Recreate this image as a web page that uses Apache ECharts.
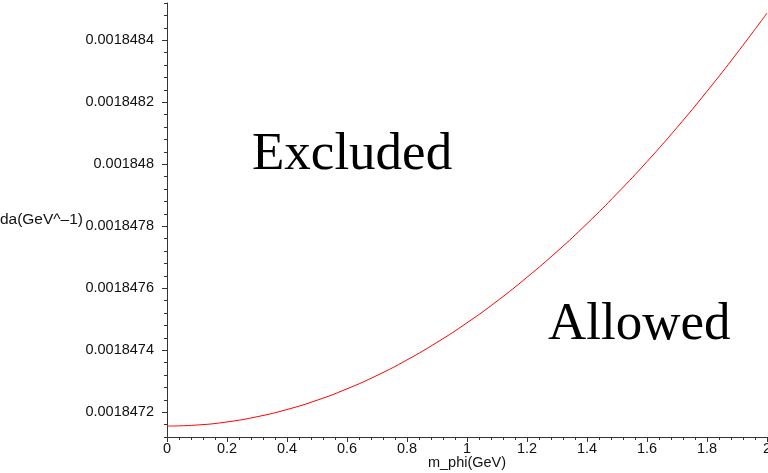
<!DOCTYPE html>
<html>
<head>
<meta charset="utf-8">
<script src="https://cdn.jsdelivr.net/npm/echarts@6/dist/echarts.min.js"></script>
<style>
  html, body { margin: 0; padding: 0; background: #fff; }
  #chart { width: 768px; height: 473px; }
</style>
</head>
<body>
<div id="chart"></div>
<script>
// m_phi (GeV)
const xValues = [0, 0.1, 0.2, 0.3, 0.4, 0.5, 0.6, 0.7, 0.8, 0.9, 1.0,
  1.1, 1.2, 1.3, 1.4, 1.5, 1.6, 1.7, 1.8, 1.9, 2.0];
// lambda (GeV^-1)
const lambdaValues = [0.0018471553, 0.0018471586, 0.0018471686, 0.0018471853,
  0.0018472086, 0.0018472386, 0.0018472753, 0.0018473186, 0.0018473686,
  0.0018474253, 0.0018474883, 0.0018475583, 0.0018476353, 0.0018477183,
  0.0018478083, 0.0018479053, 0.0018480083, 0.0018481183, 0.0018482353,
  0.0018483583, 0.0018484873];
const yTickValues = [0.0018472, 0.0018474, 0.0018476, 0.0018478, 0.001848, 0.0018482, 0.0018484];
const yTickLabels = ['0.0018472', '0.0018474', '0.0018476', '0.0018478', '0.001848', '0.0018482', '0.0018484'];
const regionLabels = ['Excluded', 'Allowed'];

const yMin = 0.00184712;
const yMax = 0.00184852;
const labelFont = { fontFamily: 'Liberation Sans', fontSize: 14.5, color: '#111' };

const chart = echarts.init(document.getElementById('chart'));
chart.setOption({
  animation: false,
  grid: { left: 167, right: 1, top: 3, bottom: 36, containLabel: false, outerBoundsMode: 'none' },
  xAxis: {
    type: 'value',
    min: 0,
    max: 2,
    interval: 0.2,
    name: 'm_phi(GeV)',
    nameLocation: 'middle',
    nameGap: 18,
    nameMoveOverlap: false,
    nameTextStyle: labelFont,
    axisLine: { lineStyle: { color: '#333', width: 1 } },
    axisTick: { show: true, length: 5, lineStyle: { color: '#333' } },
    minorTick: { show: true, splitNumber: 5, length: 3, lineStyle: { color: '#333' } },
    axisLabel: Object.assign({ margin: 4 }, labelFont),
    splitLine: { show: false }
  },
  yAxis: [
    {
      type: 'value',
      min: yMin,
      max: yMax,
      name: 'lambda(GeV^\u20131)',
      nameLocation: 'middle',
      nameRotate: 0,
      nameGap: 84,
      nameMoveOverlap: false,
      nameTextStyle: Object.assign({}, labelFont, { fontSize: 15.5, padding: [0, 0, 10, 0] }),
      axisLine: { show: true, lineStyle: { color: '#333', width: 1 } },
      axisTick: { show: true, length: 5, customValues: yTickValues, lineStyle: { color: '#333' } },
      axisLabel: Object.assign({
        margin: 13,
        customValues: yTickValues,
        formatter: function (v) {
          const i = yTickValues.findIndex(t => Math.abs(t - v) < 1e-12);
          return i >= 0 ? yTickLabels[i] : '';
        }
      }, labelFont),
      splitLine: { show: false }
    },
    {
      // minor ticks only
      type: 'value',
      position: 'left',
      min: yMin,
      max: yMax,
      interval: 0.00000004,
      axisLine: { show: false },
      axisTick: { show: true, length: 3, lineStyle: { color: '#333' } },
      axisLabel: { show: false },
      splitLine: { show: false }
    }
  ],
  series: [
    {
      type: 'line',
      yAxisIndex: 0,
      data: xValues.map((x, i) => [x, lambdaValues[i]]),
      smooth: true,
      showSymbol: false,
      lineStyle: { color: '#ff0000', width: 1 }
    }
  ],
  graphic: [
    {
      type: 'text',
      left: 252,
      top: 129,
      style: { text: regionLabels[0], fontFamily: 'Liberation Serif', fontSize: 53, fill: '#000' }
    },
    {
      type: 'text',
      left: 548,
      top: 299,
      style: { text: regionLabels[1], fontFamily: 'Liberation Serif', fontSize: 53, fill: '#000' }
    }
  ]
});
</script>
</body>
</html>
